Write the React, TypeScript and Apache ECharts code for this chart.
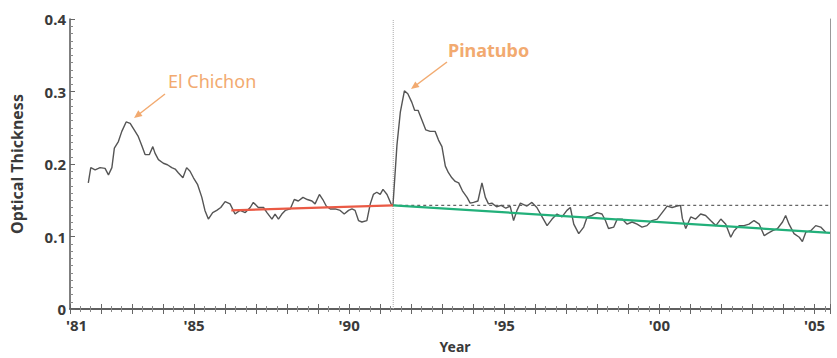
import React, { useEffect, useRef } from "react";
import * as echarts from "echarts";

const years = [
  1981.59, 1981.67, 1981.81, 1981.97, 1982.13, 1982.24, 1982.35, 1982.43, 1982.56, 1982.67,
  1982.81, 1982.94, 1983.04, 1983.2, 1983.31, 1983.42, 1983.56, 1983.67, 1983.74, 1983.85,
  1984.01, 1984.14, 1984.28, 1984.39, 1984.49, 1984.64, 1984.76, 1984.87, 1984.98, 1985.11,
  1985.25, 1985.35, 1985.46, 1985.6, 1985.73, 1985.86, 1986.0, 1986.16, 1986.32, 1986.48,
  1986.65, 1986.81, 1986.91, 1987.07, 1987.24, 1987.35, 1987.51, 1987.61, 1987.72, 1987.83,
  1987.94, 1988.1, 1988.23, 1988.36, 1988.51, 1988.65, 1988.8, 1988.9, 1989.04, 1989.15,
  1989.26, 1989.39, 1989.55, 1989.71, 1989.84, 1989.98, 1990.09, 1990.19, 1990.3, 1990.41,
  1990.57, 1990.68, 1990.78, 1990.89, 1991.0, 1991.09, 1991.22, 1991.35, 1991.41, 1991.54,
  1991.65, 1991.78, 1991.89, 1992.02, 1992.11, 1992.22, 1992.35, 1992.47, 1992.61, 1992.77,
  1992.88, 1992.99, 1993.1, 1993.2, 1993.31, 1993.42, 1993.53, 1993.65, 1993.8, 1993.9,
  1994.01, 1994.15, 1994.28, 1994.39, 1994.49, 1994.6, 1994.75, 1994.9, 1995.05, 1995.19,
  1995.3, 1995.41, 1995.52, 1995.73, 1995.89, 1996.05, 1996.22, 1996.38, 1996.54, 1996.7,
  1996.86, 1997.02, 1997.13, 1997.24, 1997.4, 1997.56, 1997.67, 1997.83, 1997.99, 1998.15,
  1998.26, 1998.36, 1998.53, 1998.64, 1998.8, 1998.96, 1999.12, 1999.28, 1999.44, 1999.6,
  1999.76, 1999.93, 2000.09, 2000.25, 2000.41, 2000.57, 2000.68, 2000.74, 2000.85, 2001.01,
  2001.17, 2001.33, 2001.49, 2001.65, 2001.82, 2001.98, 2002.14, 2002.3, 2002.41, 2002.57,
  2002.73, 2002.89, 2003.05, 2003.22, 2003.38, 2003.48, 2003.65, 2003.81, 2003.97, 2004.07,
  2004.18, 2004.34, 2004.51, 2004.61, 2004.72, 2004.88, 2005.04, 2005.2, 2005.36,
];

const thickness = [
  0.174, 0.195, 0.192, 0.195, 0.194, 0.185, 0.195, 0.222, 0.231, 0.245,
  0.258, 0.256, 0.249, 0.238, 0.226, 0.213, 0.213, 0.224, 0.215, 0.206,
  0.201, 0.199, 0.195, 0.193, 0.188, 0.181, 0.195, 0.19, 0.181, 0.172,
  0.154, 0.136, 0.124, 0.133, 0.136, 0.14, 0.148, 0.145, 0.131, 0.136,
  0.133, 0.14, 0.147, 0.14, 0.14, 0.133, 0.124, 0.131, 0.124, 0.131,
  0.136, 0.138, 0.151, 0.149, 0.154, 0.151, 0.149, 0.145, 0.158, 0.151,
  0.142, 0.138, 0.138, 0.136, 0.131, 0.136, 0.138, 0.136, 0.122, 0.12,
  0.122, 0.145, 0.158, 0.161, 0.158, 0.165, 0.158, 0.145, 0.142, 0.226,
  0.272, 0.301, 0.297, 0.285, 0.274, 0.274, 0.26, 0.247, 0.245, 0.245,
  0.233, 0.224, 0.197, 0.188, 0.181, 0.176, 0.174, 0.163, 0.154, 0.146,
  0.147, 0.149, 0.174, 0.154, 0.145, 0.146, 0.141, 0.143, 0.139, 0.142,
  0.122, 0.136, 0.146, 0.142, 0.147, 0.14, 0.127, 0.115, 0.124, 0.131,
  0.127, 0.136, 0.14, 0.117, 0.104, 0.113, 0.127, 0.129, 0.133, 0.131,
  0.122, 0.111, 0.113, 0.124, 0.124, 0.117, 0.12, 0.117, 0.113, 0.115,
  0.122, 0.124, 0.133, 0.142, 0.14, 0.142, 0.143, 0.125, 0.111, 0.127,
  0.124, 0.131, 0.129, 0.122, 0.115, 0.124, 0.117, 0.099, 0.108, 0.115,
  0.115, 0.117, 0.122, 0.117, 0.101, 0.104, 0.108, 0.111, 0.12, 0.129,
  0.117, 0.104, 0.099, 0.093, 0.106, 0.108, 0.115, 0.113, 0.106,
];

// trend lines [year, value]
const preTrend = [[1986.2, 0.136], [1991.42, 0.143]];
const postTrend = [[1991.42, 0.143], [2005.5, 0.105]];
const pinatuboLevel = [[1991.42, 0.143], [2005.5, 0.143]];
const eruptionLine = [[1991.42, 0], [1991.42, 0.4]];

const labeledYears = [1981, 1985, 1990, 1995, 2000, 2005];

const FONT = "'Noto Sans', 'DejaVu Sans', sans-serif";
const ORANGE = "#f2aa70";

export default function App() {
  const ref = useRef<HTMLDivElement>(null);
  useEffect(() => {
    if (!ref.current) return;
    const chart = echarts.init(ref.current, null, { renderer: "svg" });
    const series = years.map((y, i) => [y, thickness[i]]);
    const axisLine = { show: true, lineStyle: { color: "#555", width: 1.5 } };
    chart.setOption({
      animation: false,
      grid: { left: 70, right: 7, top: 19, bottom: 45 },
      xAxis: [
        {
          type: "value",
          min: 1981,
          max: 2005.5,
          interval: 1,
          axisLine,
          axisTick: { show: true, inside: true, length: 5, lineStyle: { color: "#666" } },
          minorTick: { show: true, splitNumber: 3, length: 3, lineStyle: { color: "#888" } },
          splitLine: { show: false },
          axisLabel: {
            margin: 8,
            showMaxLabel: false,
            formatter: (v: number) => {
              if (!labeledYears.includes(v)) return "";
              const s = "'" + String(v).slice(2);
              return v === 1981 ? "{f|" + s + "}" : s;
            },
            rich: {
              f: { padding: [0, 0, 0, 13], fontFamily: FONT, fontWeight: "bold", fontSize: 15, color: "#3a3a3a" },
            },
            fontFamily: FONT,
            fontWeight: "bold",
            fontSize: 15,
            color: "#3a3a3a",
          },
          name: "Year",
          nameLocation: "middle",
          nameGap: 30,
          nameTextStyle: { fontFamily: FONT, fontWeight: "bold", fontSize: 14, color: "#3a3a3a", padding: [0, 0, 0, 10] },
        },
        {
          type: "value",
          position: "top",
          min: 1981,
          max: 2005.5,
          interval: 1,
          axisLine,
          axisTick: { show: true, inside: true, length: 5, lineStyle: { color: "#666" } },
          minorTick: { show: true, splitNumber: 3, length: 3, lineStyle: { color: "#888" } },
          axisLabel: { show: false },
          splitLine: { show: false },
        },
      ],
      yAxis: [
        {
          type: "value",
          min: 0,
          max: 0.4,
          interval: 0.1,
          axisLine,
          axisTick: { show: true, inside: true, length: 5, lineStyle: { color: "#666" } },
          minorTick: { show: true, splitNumber: 10, length: 3, lineStyle: { color: "#888" } },
          splitLine: { show: false },
          axisLabel: {
            margin: 4,
            fontFamily: FONT,
            fontWeight: "bold",
            fontSize: 15,
            color: "#3a3a3a",
            formatter: (v: number) => (v === 0 ? "0" : v.toFixed(1)),
          },
          name: "Optical Thickness",
          nameLocation: "middle",
          nameGap: 45,
          nameTextStyle: { fontFamily: FONT, fontWeight: "bold", fontSize: 16, color: "#3a3a3a" },
        },
        {
          type: "value",
          position: "right",
          min: 0,
          max: 0.4,
          interval: 0.1,
          axisLine: { show: true, lineStyle: { color: "#999", width: 1 } },
          axisTick: { show: false },
          axisLabel: { show: false },
          splitLine: { show: false },
        },
      ],
      series: [
        {
          type: "line",
          data: eruptionLine,
          showSymbol: false,
          silent: true,
          lineStyle: { color: "#aaa", width: 1, type: "dotted" },
        },
        {
          type: "line",
          data: pinatuboLevel,
          showSymbol: false,
          silent: true,
          lineStyle: { color: "#666", width: 1.2, type: [3, 3] },
        },
        {
          type: "line",
          data: series,
          showSymbol: false,
          lineStyle: { color: "#555", width: 1.4 },
          z: 3,
        },
        {
          type: "line",
          data: preTrend,
          showSymbol: false,
          lineStyle: { color: "#ea5a45", width: 2.2 },
          z: 4,
        },
        {
          type: "line",
          data: postTrend,
          showSymbol: false,
          lineStyle: { color: "#22b07a", width: 2.2 },
          z: 4,
        },
      ],
      graphic: [
        {
          type: "text",
          left: 168,
          top: 72,
          style: { text: "El Chichon", fill: ORANGE, font: `18px ${FONT}` },
        },
        {
          type: "line",
          shape: { x1: 165, y1: 94, x2: 138, y2: 115 },
          style: { stroke: ORANGE, lineWidth: 1.5 },
        },
        {
          type: "polygon",
          shape: { points: [[134, 118], [142.5, 115.9], [138.3, 110.3]] },
          style: { fill: ORANGE },
        },
        {
          type: "text",
          left: 448,
          top: 41,
          style: { text: "Pinatubo", fill: ORANGE, font: `bold 18px ${FONT}` },
        },
        {
          type: "line",
          shape: { x1: 447, y1: 62, x2: 415, y2: 86 },
          style: { stroke: ORANGE, lineWidth: 1.5 },
        },
        {
          type: "polygon",
          shape: { points: [[411, 89], [419.5, 87.0], [415.3, 81.4]] },
          style: { fill: ORANGE },
        },
      ],
    });
    return () => chart.dispose();
  }, []);
  return (
    <div
      ref={ref}
      style={{ position: "fixed", left: 0, top: 0, width: 837, height: 358, background: "#fff" }}
    />
  );
}
